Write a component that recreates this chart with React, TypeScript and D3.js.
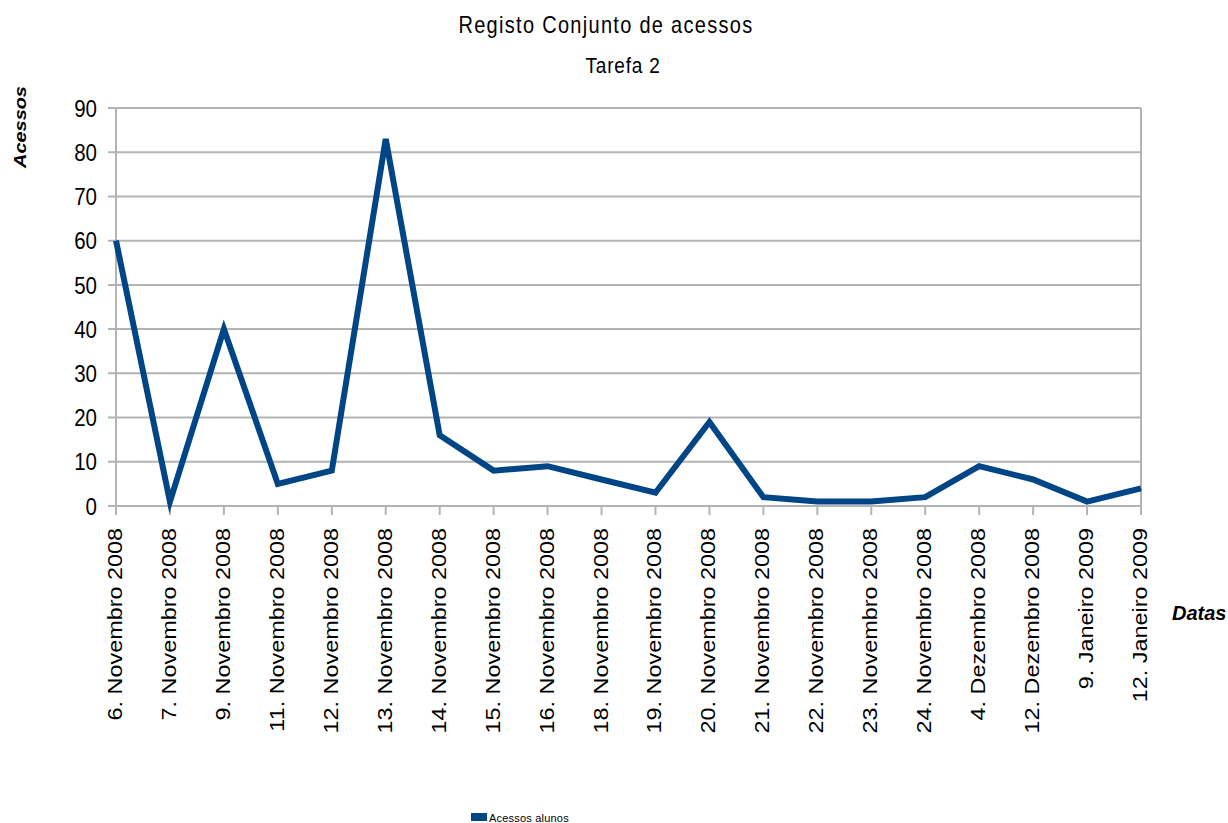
import React from "react";
import * as d3 from "d3";

const categories = [
  "6. Novembro 2008", "7. Novembro 2008", "9. Novembro 2008", "11. Novembro 2008",
  "12. Novembro 2008", "13. Novembro 2008", "14. Novembro 2008", "15. Novembro 2008",
  "16. Novembro 2008", "18. Novembro 2008", "19. Novembro 2008", "20. Novembro 2008",
  "21. Novembro 2008", "22. Novembro 2008", "23. Novembro 2008", "24. Novembro 2008",
  "4. Dezembro 2008", "12. Dezembro 2008", "9. Janeiro 2009", "12. Janeiro 2009",
];
const acessosAlunos = [60, 1, 40, 5, 8, 83, 16, 8, 9, 6, 3, 19, 2, 1, 1, 2, 9, 6, 1, 4];
const yTicks = [0, 10, 20, 30, 40, 50, 60, 70, 80, 90];

const title = "Registo Conjunto de acessos";
const subtitle = "Tarefa 2";
const yTitle = "Acessos";
const xTitle = "Datas";
const seriesName = "Acessos alunos";

const W = 1228;
const H = 823;
const left = 116;
const right = 1141;
const top = 108;
const bottom = 506;
const SY = 1.17;
const FONT = "'Liberation Sans', Arial, sans-serif";
const GRID = "#b3b3b3";
const BLUE = "#004586";

export default function App() {
  const x = d3.scalePoint<string>().domain(categories).range([left, right]).padding(0);
  const y = d3.scaleLinear().domain([0, 90]).range([bottom, top]);
  const line = d3
    .line<number>()
    .x((_, i) => x(categories[i]) as number)
    .y((d) => y(d));

  return (
    <svg
      width={W}
      height={H}
      style={{ position: "absolute", left: 0, top: 0, background: "#fff" }}
      fontFamily={FONT}
    >
      <rect x={0} y={0} width={W} height={H} fill="#fff" />
      {/* titles */}
      <text
        transform={`translate(606,33) scale(1,${SY})`}
        textAnchor="middle"
        fontSize={20}
        letterSpacing={1.3}
        fill="#000"
      >
        {title}
      </text>
      <text
        transform={`translate(623,73) scale(1,${SY})`}
        textAnchor="middle"
        fontSize={19}
        letterSpacing={0.8}
        fill="#000"
      >
        {subtitle}
      </text>

      {/* horizontal gridlines and y ticks */}
      {yTicks.map((t) => (
        <g key={t}>
          <line x1={left - 8} x2={right} y1={y(t)} y2={y(t)} stroke={GRID} strokeWidth={2} />
          <text
            transform={`translate(97,${y(t)}) scale(1,${SY})`}
            textAnchor="end"
            dy="0.36em"
            fontSize={20.5}
            fill="#000"
          >
            {t}
          </text>
        </g>
      ))}

      {/* vertical axis lines */}
      <line x1={left} x2={left} y1={top} y2={bottom + 9} stroke={GRID} strokeWidth={2} />
      <line x1={right} x2={right} y1={top} y2={bottom + 9} stroke={GRID} strokeWidth={2} />

      {/* x ticks and labels */}
      {categories.map((c) => {
        const cx = x(c) as number;
        return (
          <g key={c}>
            <line x1={cx} x2={cx} y1={bottom} y2={bottom + 9} stroke={GRID} strokeWidth={2} />
            <text
              transform={`translate(${cx + 6},528) scale(1,${SY}) rotate(-90)`}
              textAnchor="end"
              fontSize={20}
              fill="#000"
            >
              {c}
            </text>
          </g>
        );
      })}

      {/* data line */}
      <path
        d={line(acessosAlunos) || ""}
        fill="none"
        stroke={BLUE}
        strokeWidth={6}
        strokeLinejoin="miter"
        strokeMiterlimit={4}
      />

      {/* axis titles */}
      <text
        transform={`translate(26,127) scale(1,${SY}) rotate(-90)`}
        textAnchor="middle"
        fontSize={17}
        fontWeight="bold"
        fontStyle="italic"
        fill="#000"
      >
        {yTitle}
      </text>
      <text
        x={1172}
        y={620}
        fontSize={20}
        fontWeight="bold"
        fontStyle="italic"
        fill="#000"
      >
        {xTitle}
      </text>

      {/* legend */}
      <rect x={471} y={813} width={16} height={8} fill={BLUE} />
      <text x={489} y={822} fontSize={11} letterSpacing={0.2} fill="#000">
        {seriesName}
      </text>
    </svg>
  );
}
